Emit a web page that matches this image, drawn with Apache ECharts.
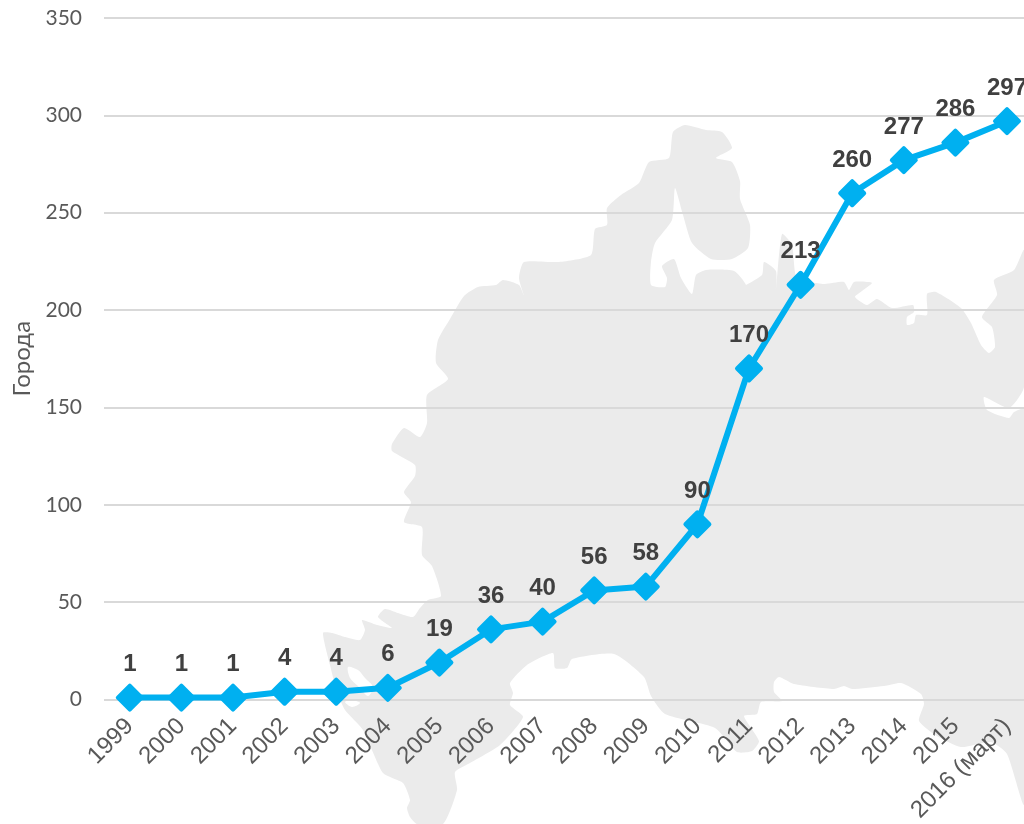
<!DOCTYPE html>
<html>
<head>
<meta charset="utf-8">
<script src="https://cdn.jsdelivr.net/npm/echarts@6/dist/echarts.min.js"></script>
<style>
html, body { margin: 0; padding: 0; background: #fff; }
#chart { width: 1024px; height: 824px; overflow: hidden; }
</style>
</head>
<body>
<div id="chart"></div>
<script>
var years = ['1999', '2000', '2001', '2002', '2003', '2004', '2005', '2006', '2007', '2008', '2009', '2010', '2011', '2012', '2013', '2014', '2015', '2016 (март)'];
var cities = [1, 1, 1, 4, 4, 6, 19, 36, 40, 56, 58, 90, 170, 213, 260, 277, 286, 297];

// background silhouette of the map, only decoration behind the plot
var mapOutline = [
    [323,633],[332,633],[345,637],[360,640],[365,630],[362,620],[377,625],[392,628],[378,617],[385,609],
    [398,613],[413,617],[420,608],[428,600],[441,596],[432,566],[422,555],[422,527],[404,522],[411,502],
    [404,492],[415,476],[415,465],[392,451],[392,444],[404,428],[420,437],[427,423],[427,395],[448,379],
    [436,363],[438,340],[450,319],[464,296],[478,287],[496,285],[503,280],[519,285],[524,296],[519,278],
    [524,262],[559,262],[591,255],[595,229],[607,225],[607,208],[621,195],[639,183],[649,162],[669,158],
    [673,132],[685,125],[706,130],[722,132],[732,148],[716,158],[732,162],[740,181],[740,199],[750,225],
    [748,248],[732,259],[711,259],[692,243],[683,215],[675,188],[672,220],[655,243],[651,262],[651,285],
    [665,287],[667,278],[662,266],[674,259],[681,278],[692,294],[696,275],[706,270],[734,271],[746,285],
    [739,289],[762,275],[764,262],[776,271],[776,289],[782,234],[792,245],[797,278],[824,284],[844,282],
    [849,290],[854,282],[872,283],[862,291],[855,297],[867,305],[877,299],[892,308],[913,305],[914,312],
    [907,317],[907,325],[914,323],[916,315],[927,315],[927,294],[936,292],[961,308],[971,323],[981,345],
    [989,353],[995,347],[992,327],[982,317],[997,295],[994,280],[1014,270],[1024,250],[1024,387],[1009,408],
    [984,397],[987,410],[1009,418],[1014,412],[1024,409],[1024,804],[1007,754],[991,742],[961,747],[937,736],
    [919,721],[924,704],[921,694],[901,683],[884,686],[852,689],[844,686],[834,689],[794,684],[779,677],
    [774,682],[774,692],[782,701],[761,702],[757,714],[744,716],[759,741],[752,751],[737,752],[715,728],
    [665,714],[651,696],[644,677],[614,654],[572,659],[567,668],[555,668],[553,653],[527,665],[510,683],
    [513,693],[510,705],[523,717],[500,745],[470,763],[455,772],[457,790],[443,824],[417,824],[410,817],
    [407,808],[410,800],[403,783],[383,773],[363,730],[345,710],[337,692],[330,665]
];
var mapBay = [[348,667],[358,670],[365,678],[373,687],[368,696],[358,686],[350,678]];
var mapBay2 = [[345,702],[352,700],[360,703],[352,707]];

var chart = echarts.init(document.getElementById('chart'), null, {renderer: 'canvas'});

chart.setOption({
    animation: false,
    backgroundColor: '#fff',
    graphic: [
        {type: 'polygon', z: -10, silent: true, shape: {points: mapOutline, smooth: 0.2}, style: {fill: '#ebebeb'}},
        {type: 'polygon', z: -9, silent: true, shape: {points: mapBay, smooth: 0.3}, style: {fill: '#fff'}},
        {type: 'polygon', z: -9, silent: true, shape: {points: mapBay2, smooth: 0.3}, style: {fill: '#fff'}}
    ],
    grid: {left: 104, top: 18, width: 928.8, height: 681.5, containLabel: false, outerBoundsMode: 'none'},
    xAxis: {
        type: 'category',
        data: years,
        boundaryGap: true,
        axisLine: {show: false},
        axisTick: {show: false},
        axisLabel: {
            interval: 0,
            rotate: 45,
            margin: 23,
            hideOverlap: false,
            fontFamily: 'Liberation Sans',
            fontSize: 24,
            color: '#595959'
        }
    },
    yAxis: {
        type: 'value',
        min: 0,
        max: 350,
        interval: 50,
        name: 'Города',
        nameLocation: 'middle',
        nameRotate: 90,
        nameGap: 69,
        nameTextStyle: {fontFamily: 'Lato', fontSize: 24, color: '#595959'},
        axisLine: {show: false},
        axisTick: {show: false},
        axisLabel: {margin: 22, fontFamily: 'Lato', fontSize: 21, color: '#595959'},
        splitLine: {lineStyle: {color: '#d9d9d9', width: 2}}
    },
    series: [{
        type: 'line',
        data: cities,
        clip: false,
        symbol: 'diamond',
        symbolSize: 24,
        itemStyle: {color: '#00b0f0', borderColor: '#00b0f0', borderWidth: 4, borderJoin: 'round'},
        lineStyle: {color: '#00b0f0', width: 6},
        label: {
            show: true,
            position: 'top',
            distance: 7,
            fontFamily: 'Liberation Sans',
            fontWeight: 'bold',
            fontSize: 24,
            color: '#404040'
        }
    }]
});
</script>
</body>
</html>
